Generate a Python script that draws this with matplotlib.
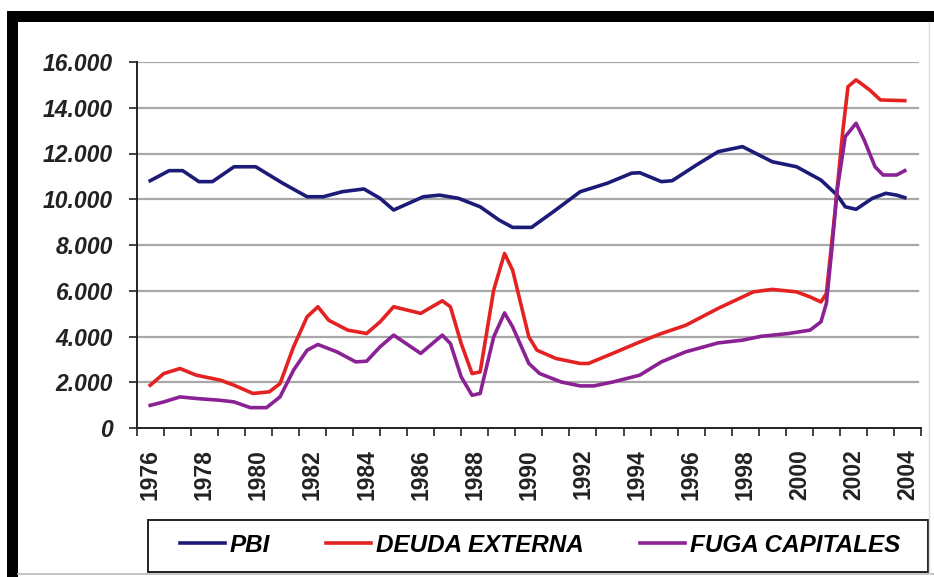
import numpy as np
import matplotlib
matplotlib.use("Agg")
import matplotlib.pyplot as plt
from matplotlib.patches import Rectangle
from matplotlib.lines import Line2D
from matplotlib.ticker import FuncFormatter

# series (x = year, y = value)
pbi_x = [1976.0, 1976.7, 1977.2, 1977.8, 1978.3, 1979.1, 1979.9, 1980.9, 1981.8, 1982.4,
         1983.1, 1983.9, 1984.5, 1985.0, 1986.1, 1986.7, 1987.4, 1988.2, 1988.9, 1989.4,
         1990.1, 1990.9, 1991.9, 1992.9, 1993.8, 1994.1, 1994.9, 1995.3, 1996.2, 1997.0,
         1997.9, 1999.0, 1999.9, 2000.8, 2001.4, 2001.7, 2002.1, 2002.7, 2003.2, 2003.6, 2003.9]
pbi_y = [10810, 11250, 11250, 10770, 10770, 11420, 11420, 10700, 10110, 10110,
         10330, 10450, 10040, 9530, 10110, 10180, 10040, 9670, 9090, 8770,
         8770, 9450, 10330, 10700, 11140, 11160, 10770, 10810, 11500, 12080,
         12300, 11640, 11420, 10840, 10180, 9670, 9560, 10040, 10260, 10180, 10070]

deuda_x = [1976.0, 1976.5, 1977.1, 1977.7, 1978.6, 1979.1, 1979.8, 1980.4, 1980.8, 1981.3,
           1981.8, 1982.2, 1982.6, 1983.3, 1984.0, 1984.5, 1985.0, 1986.0, 1986.8, 1987.1,
           1987.5, 1987.9, 1988.2, 1988.7, 1989.1, 1989.4, 1990.0, 1990.3, 1991.0, 1991.9,
           1992.2, 1993.1, 1994.1, 1994.9, 1995.8, 1997.0, 1998.3, 1999.0, 1999.9, 2000.4,
           2000.8, 2001.0, 2001.3, 2001.6, 2001.8, 2002.1, 2002.6, 2003.0, 2003.9]
deuda_y = [1870, 2380, 2600, 2310, 2090, 1870, 1510, 1580, 1940, 3550,
           4860, 5300, 4710, 4280, 4130, 4640, 5300, 5010, 5560, 5300,
           3690, 2380, 2450, 6030, 7630, 6900, 3980, 3400, 3040, 2820,
           2820, 3260, 3760, 4130, 4490, 5230, 5950, 6060, 5950, 5730,
           5510, 5880, 9230, 12880, 14920, 15220, 14780, 14340, 14310]

fuga_x = [1976.0, 1976.5, 1977.1, 1977.7, 1978.6, 1979.1, 1979.7, 1980.3, 1980.8, 1981.3,
          1981.8, 1982.2, 1982.9, 1983.6, 1984.0, 1984.5, 1985.0, 1986.0, 1986.8, 1987.1,
          1987.5, 1987.9, 1988.2, 1988.7, 1989.1, 1989.4, 1990.0, 1990.4, 1991.2, 1991.9,
          1992.4, 1993.1, 1994.1, 1994.9, 1995.8, 1997.0, 1997.9, 1998.6, 1999.6, 2000.4,
          2000.8, 2001.0, 2001.2, 2001.4, 2001.7, 2002.1, 2002.4, 2002.8, 2003.1, 2003.6, 2003.9]
fuga_y = [990, 1140, 1360, 1290, 1210, 1140, 890, 890, 1360, 2530,
          3400, 3650, 3330, 2890, 2920, 3550, 4060, 3260, 4060, 3690,
          2230, 1430, 1510, 3980, 5030, 4420, 2820, 2380, 2010, 1840,
          1840, 2010, 2310, 2890, 3330, 3720, 3840, 4010, 4130, 4280,
          4640, 5440, 7780, 10400, 12740, 13320, 12590, 11420, 11060, 11060, 11250]

years = list(range(1976, 2005))
labels = ["PBI", "DEUDA EXTERNA", "FUGA CAPITALES"]
colors = ["#1c1c78", "#e42222", "#8a2294"]

W, H = 934, 577
fig = plt.figure(figsize=(W / 100, H / 100), dpi=100)
fig.patch.set_facecolor("white")

def fx(px):
    return px / W

def fy(py):
    return (H - py) / H

ax = fig.add_axes([fx(136.7), fy(428), fx(921) - fx(136.7), fy(62) - fy(428)])
ax.set_xlim(1975.5, 2004.5)
ax.set_ylim(0, 16000)

for v in range(2000, 16001, 2000):
    ax.axhline(v, xmax=0.996, color="#a8a8a8", lw=1.6, zorder=1)

ax.plot(pbi_x, pbi_y, color=colors[0], lw=2.6, zorder=3)
ax.plot(deuda_x, deuda_y, color=colors[1], lw=2.6, zorder=3)
ax.plot(fuga_x, fuga_y, color=colors[2], lw=2.6, zorder=3)

for s in ["top", "right"]:
    ax.spines[s].set_visible(False)
for s in ["left", "bottom"]:
    ax.spines[s].set_linewidth(1.4)
    ax.spines[s].set_color("#222222")

ax.set_yticks(range(0, 16001, 2000))
ax.yaxis.set_major_formatter(FuncFormatter(lambda v, p: "{:,.0f}".format(v).replace(",", ".")))
ax.tick_params(axis="y", length=6, width=1.2, pad=11, colors="#222222", labelsize=16.5)
for t in ax.get_yticklabels():
    t.set_fontfamily("Liberation Sans")
    t.set_fontweight("bold")
    t.set_fontstyle("italic")

ax.set_xticks([y - 0.5 for y in years] + [2004.5])
ax.set_xticklabels([])
ax.tick_params(axis="x", which="major", length=6, width=1.2, colors="#222222")
ax.set_xticks(years[::2], minor=True)
ax.set_xticklabels([str(y) for y in years[::2]], minor=True, rotation=90,
                   fontfamily="Liberation Sans", fontweight="bold", fontsize=16.5, color="#222222")
ax.tick_params(axis="x", which="minor", length=0, pad=15)

# legend
handles = [Line2D([], [], color=c, lw=2.6) for c in colors]
fig.legend(handles, labels, loc="center", bbox_to_anchor=(fx(540), fy(545)), ncol=3,
           frameon=False, handlelength=1.85, handletextpad=0.2, columnspacing=2.3,
           prop={"family": "Liberation Sans", "weight": "bold", "style": "italic", "size": 17.5})
fig.patches.append(Rectangle((fx(148), fy(572)), fx(928) - fx(148), fy(520) - fy(572),
                             transform=fig.transFigure, fill=False, edgecolor="#222222", lw=1.4))

# black frame of the original image
fig.patches.append(Rectangle((fx(7), fy(22)), fx(934) - fx(7), fy(11) - fy(22),
                             transform=fig.transFigure, facecolor="black", edgecolor="none"))
fig.patches.append(Rectangle((fx(7), 0), fx(18) - fx(7), fy(11),
                             transform=fig.transFigure, facecolor="black", edgecolor="none"))
fig.lines.append(Line2D([fx(18), 1], [fy(574), fy(574)], transform=fig.transFigure,
                        color="#bbbbbb", lw=1.2))
fig.lines.append(Line2D([fx(929), fx(929)], [fy(22), fy(574)], transform=fig.transFigure,
                        color="#dddddd", lw=1.0))

fig.savefig("out.png", dpi=100)
